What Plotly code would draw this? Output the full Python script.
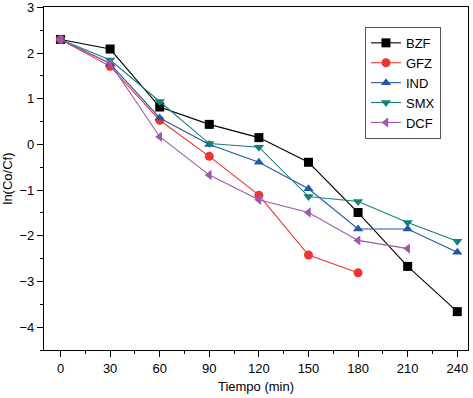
import plotly.graph_objects as go

tiempo = [0, 30, 60, 90, 120, 150, 180, 210, 240]
bzf = [2.30, 2.09, 0.82, 0.44, 0.15, -0.39, -1.49, -2.67, -3.66]
gfz = [2.30, 1.71, 0.53, -0.26, -1.11, -2.42, -2.81]
ind = [2.30, 1.77, 0.58, 0.00, -0.39, -0.97, -1.85, -1.85, -2.36]
smx = [2.30, 1.85, 0.94, 0.02, -0.06, -1.14, -1.25, -1.71, -2.12]
dcf = [2.30, 1.78, 0.17, -0.67, -1.21, -1.49, -2.10, -2.28]
y_ticks = [-4, -3, -2, -1, 0, 1, 2, 3]

series = [
    ("BZF", bzf, "#000000", "square"),
    ("GFZ", gfz, "#EE3333", "circle"),
    ("IND", ind, "#2456A6", "triangle-up"),
    ("SMX", smx, "#15807A", "triangle-down"),
    ("DCF", dcf, "#9E59AE", "triangle-left"),
]

fig = go.Figure()
for name, vals, col, sym in series:
    fig.add_trace(go.Scatter(
        x=tiempo[:len(vals)], y=vals, name=name, mode="lines+markers",
        line=dict(color=col, width=1.1),
        marker=dict(symbol=sym, size=9, color=col, line=dict(width=0)),
    ))

axis_common = dict(
    showline=True, linecolor="black", linewidth=1.2, mirror=True,
    ticks="outside", ticklen=6, tickcolor="black", tickwidth=1,
    showgrid=False, zeroline=False, automargin=False,
    tickfont=dict(family="Liberation Sans, Arial", size=13, color="black"),
)

fig.update_xaxes(
    range=[-10, 246.5], tickvals=tiempo, **axis_common,
    minor=dict(ticks="outside", ticklen=3, dtick=15, tick0=15, tickcolor="black", showgrid=False),
    title=dict(text="Tiempo (min)", font=dict(family="Liberation Sans, Arial", size=13, color="black"), standoff=7),
)
fig.update_yaxes(
    range=[-4.5, 3.01], tickvals=y_ticks, ticktext=[str(v).replace("-", "\u2212") for v in y_ticks], **axis_common,
    minor=dict(ticks="outside", ticklen=3, dtick=0.5, tick0=0.5, tickcolor="black", showgrid=False),
    title=dict(text="ln(Co/Cf)", font=dict(family="Liberation Sans, Arial", size=13, color="black"), standoff=4),
)

fig.update_layout(
    width=473, height=398,
    margin=dict(l=44, r=5, t=7, b=48),
    plot_bgcolor="white", paper_bgcolor="white",
    legend=dict(
        x=0.757, y=0.942, xanchor="left", yanchor="top",
        bordercolor="#555555", borderwidth=1, bgcolor="white",
        font=dict(family="Liberation Sans, Arial", size=13, color="black"),
        tracegroupgap=0, itemwidth=30,
    ),
)

fig.write_html("out.html", config={"displayModeBar": False},
               post_script="document.body.style.margin='0';document.body.style.overflow='hidden';")
